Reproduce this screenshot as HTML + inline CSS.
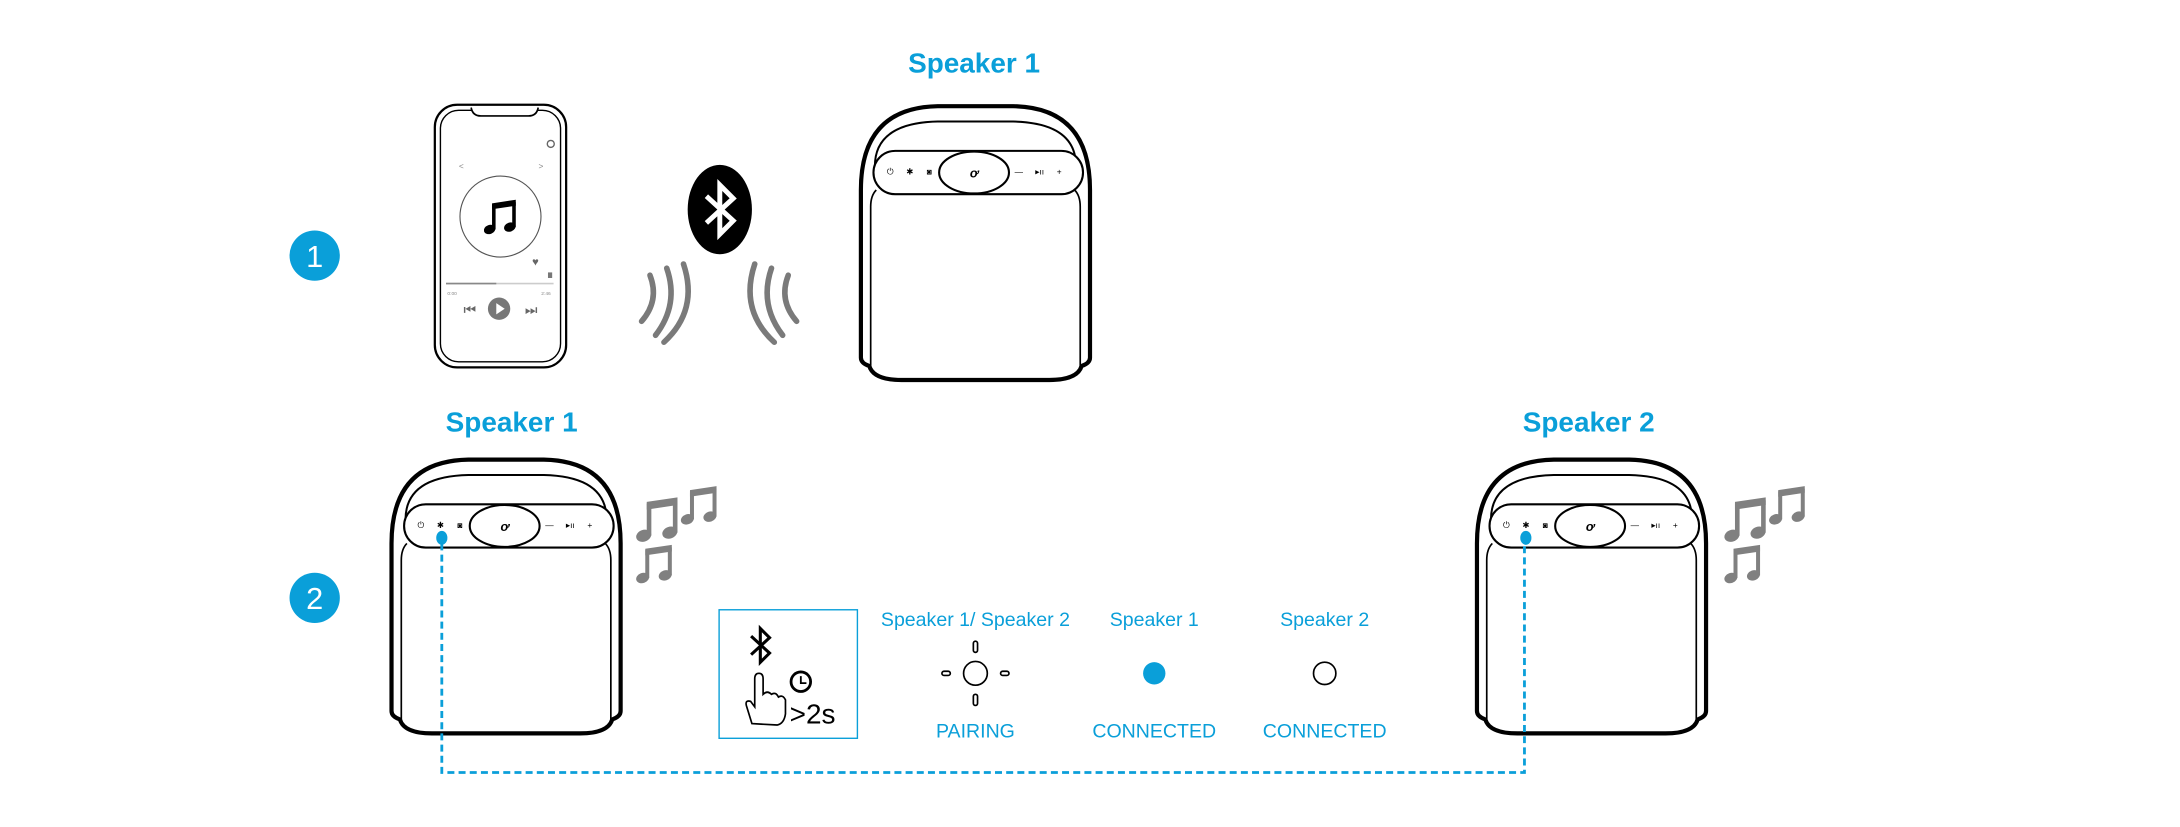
<!DOCTYPE html>
<html><head><meta charset="utf-8"><style>
html,body{margin:0;padding:0;background:#fff;}
svg{display:block;}
text{font-family:"Liberation Sans",sans-serif;}
</style></head><body>
<svg width="2180" height="827" viewBox="0 0 1560 592" xmlns="http://www.w3.org/2000/svg">
<defs>
<g id="spk">
  <path d="M3,182 L3,62 Q3,3 58,2 L112,2 Q167,3 167,62 L167,182 Q167,186 161,188 Q158,198 138,198 L32,198 Q12,198 9,188 Q3,186 3,182 Z" fill="#fff" stroke="#000" stroke-width="3"/>
  <path d="M13,45 Q13,14 58,13 L112,13 Q157,14 157,45" fill="none" stroke="#000" stroke-width="1.4"/>
  <path d="M10,189 L10,74 Q10,66 14,62 M160,189 L160,74 Q160,66 156,62" fill="none" stroke="#000" stroke-width="1.2"/>
  <rect x="12" y="34" width="150" height="31" rx="15.5" fill="#fff" stroke="#000" stroke-width="1.5"/>
  <ellipse cx="84" cy="49.5" rx="25" ry="15" fill="#fff" stroke="#000" stroke-width="1.5"/>
  <text x="84" y="53" font-size="9" font-style="italic" font-weight="bold" text-anchor="middle">ơ</text>
  <g font-size="6" text-anchor="middle" fill="#000">
    <text x="24" y="51">⏻</text><text x="38" y="51">✱</text><text x="52" y="51">◙</text>
    <text x="116" y="51">—</text><text x="131" y="51">▸ıı</text><text x="145" y="51">+</text>
  </g>
</g>
<g id="bt"><path d="M-6,-6 L6,5 L0,11 L0,-11 L6,-5 L-6,6" fill="none" stroke-linejoin="miter"/></g>
<g id="note">
  <path d="M7,3 L27,0 L27,5 L7,8 Z"/>
  <rect x="7" y="4" width="3" height="21"/>
  <rect x="24" y="2" width="3" height="21"/>
  <ellipse cx="5" cy="25" rx="5" ry="3.8" transform="rotate(-20 5 25)"/>
  <ellipse cx="22" cy="23" rx="5" ry="3.8" transform="rotate(-20 22 23)"/>
</g>
</defs>

<!-- step circles -->
<circle cx="225" cy="183" r="18" fill="#0a9fd9"/>
<text x="225" y="191" font-size="22" fill="#fff" text-anchor="middle">1</text>
<circle cx="225" cy="428" r="18" fill="#0a9fd9"/>
<text x="225" y="436" font-size="22" fill="#fff" text-anchor="middle">2</text>

<!-- phone -->
<rect x="311" y="75" width="94" height="188" rx="16" fill="#fff" stroke="#000" stroke-width="1.6"/>
<rect x="315" y="79" width="86" height="180" rx="13" fill="none" stroke="#000" stroke-width="1"/>
<path d="M337,77 Q338,83 344,83 L378,83 Q384,83 385,77" fill="#fff" stroke="#000" stroke-width="1.2"/>
<circle cx="394" cy="103" r="2.5" fill="none" stroke="#666" stroke-width="1"/>
<text x="330" y="121" font-size="6" fill="#888" text-anchor="middle">&lt;</text>
<text x="387" y="121" font-size="6" fill="#888" text-anchor="middle">&gt;</text>
<circle cx="358" cy="155" r="29" fill="#fff" stroke="#555" stroke-width="0.8"/>
<use href="#note" fill="#000" transform="translate(346,143) scale(0.85)"/>
<text x="383" y="190" font-size="8" fill="#666" text-anchor="middle">♥</text>
<rect x="392" y="195" width="3" height="4" fill="#777"/>
<line x1="319" y1="203" x2="396" y2="203" stroke="#ccc" stroke-width="1.2"/>
<line x1="319" y1="203" x2="355" y2="203" stroke="#888" stroke-width="1.2"/>
<text x="320" y="211" font-size="3.5" fill="#888">0:00</text>
<text x="394" y="211" font-size="3.5" fill="#888" text-anchor="end">2:46</text>
<text x="336" y="225" font-size="10" fill="#666" text-anchor="middle">⏮</text>
<circle cx="357" cy="221" r="8" fill="#777"/>
<path d="M355,217 L361,221 L355,225 Z" fill="#fff"/>
<text x="380" y="225" font-size="10" fill="#666" text-anchor="middle">⏭</text>

<!-- bluetooth badge -->
<ellipse cx="515" cy="150" rx="23" ry="32" fill="#000"/>
<g transform="translate(515,150) scale(1.6)" stroke="#fff" stroke-width="2.2"><use href="#bt"/></g>
<!-- waves -->
<g fill="none" stroke="#7a7a7a" stroke-width="4" stroke-linecap="round">
  <path d="M465,197 Q472,215 459,230"/>
  <path d="M477,192 Q486,218 469,240"/>
  <path d="M489,189 Q500,222 475,245"/>
  <path d="M564,197 Q557,215 570,230"/>
  <path d="M552,192 Q543,218 560,240"/>
  <path d="M540,189 Q529,222 554,245"/>
</g>

<!-- top speaker -->
<text x="697" y="52" font-size="20" font-weight="bold" fill="#0a9fd9" text-anchor="middle">Speaker 1</text>
<use href="#spk" transform="translate(613,74)"/>

<!-- row 2 labels -->
<text x="366" y="309" font-size="20" font-weight="bold" fill="#0a9fd9" text-anchor="middle">Speaker 1</text>
<text x="1137" y="309" font-size="20" font-weight="bold" fill="#0a9fd9" text-anchor="middle">Speaker 2</text>
<use href="#spk" transform="translate(277,327)"/>
<use href="#spk" transform="translate(1054,327)"/>

<!-- music notes -->
<g fill="#808080">
  <use href="#note" transform="translate(455,356) scale(1.1)"/>
  <use href="#note" transform="translate(487,348) scale(0.95)"/>
  <use href="#note" transform="translate(455,390) scale(0.95)"/>
  <use href="#note" transform="translate(1234,356) scale(1.1)"/>
  <use href="#note" transform="translate(1266,348) scale(0.95)"/>
  <use href="#note" transform="translate(1234,390) scale(0.95)"/>
</g>

<!-- dashed link -->
<path d="M316,389 L316,553 L1091,553 L1091,389" fill="none" stroke="#0a9fd9" stroke-width="2" stroke-dasharray="5,3"/>
<ellipse cx="316" cy="385" rx="4" ry="5" fill="#0a9fd9"/>
<ellipse cx="1092" cy="385" rx="4" ry="5" fill="#0a9fd9"/>

<!-- instruction box -->
<rect x="514.5" y="436.5" width="99" height="92" fill="#fff" stroke="#0a9fd9" stroke-width="1"/>
<g transform="translate(544,462) scale(1.1)" stroke="#000" stroke-width="2"><use href="#bt"/></g>
<path d="M538,518 L534,505 Q533,501 537,502 L540,506 L540,486 Q540,482 543,482 Q546,482 546,486 L546,497 Q549,494 552,497 Q555,495 557,499 Q560,497 562,501 L562,511 Q561,518 556,519 Z" fill="#fff" stroke="#000" stroke-width="1.2"/>
<circle cx="573" cy="488" r="7" fill="#fff" stroke="#000" stroke-width="2"/>
<path d="M573,484 L573,489 L577,489" fill="none" stroke="#000" stroke-width="1.3"/>
<text x="565" y="518" font-size="20" fill="#000">&gt;2s</text>

<!-- LED states -->
<g fill="#0a9fd9" font-size="14" text-anchor="middle">
  <text x="698" y="448">Speaker 1/ Speaker 2</text>
  <text x="826" y="448">Speaker 1</text>
  <text x="948" y="448">Speaker 2</text>
  <text x="698" y="528">PAIRING</text>
  <text x="826" y="528">CONNECTED</text>
  <text x="948" y="528">CONNECTED</text>
</g>
<circle cx="698" cy="482" r="8.5" fill="#fff" stroke="#000" stroke-width="1.2"/>
<g fill="none" stroke="#000" stroke-width="1.2">
  <rect x="696.5" y="459" width="3" height="8" rx="1.5"/>
  <rect x="696.5" y="497" width="3" height="8" rx="1.5"/>
  <rect x="674" y="480.5" width="6" height="3" rx="1.5"/>
  <rect x="716" y="480.5" width="6" height="3" rx="1.5"/>
</g>
<circle cx="826" cy="482" r="8" fill="#0a9fd9"/>
<circle cx="948" cy="482" r="8" fill="#fff" stroke="#000" stroke-width="1.2"/>
</svg>
</body></html>
